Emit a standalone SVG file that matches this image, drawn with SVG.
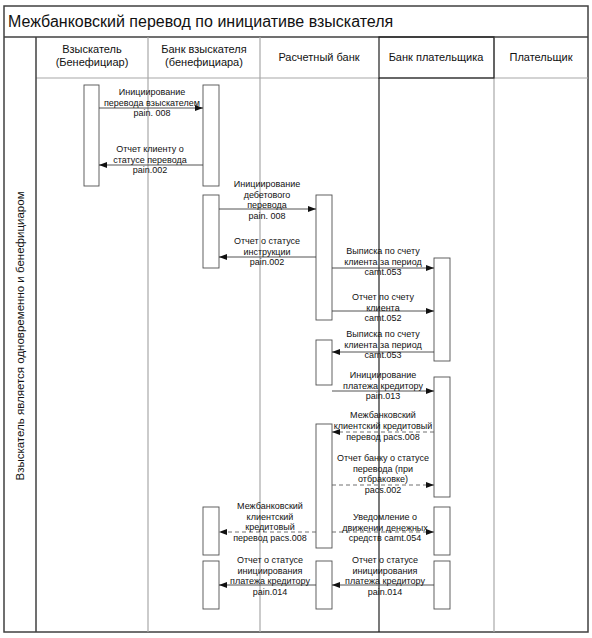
<svg xmlns="http://www.w3.org/2000/svg" width="592" height="638" viewBox="0 0 592 638">
<defs>
<style>
text{font-family:"Liberation Sans",Arial,sans-serif;fill:#111}
.title{font-size:16px}
.hdr{font-size:11px;text-anchor:middle}
.lbl{font-size:9px;text-anchor:middle}
.side{font-size:11.5px;text-anchor:middle}
.frame{fill:none;stroke:#404040;stroke-width:1.5}
.lane{fill:none;stroke:#a8a8a8;stroke-width:1.2}
.dark{fill:none;stroke:#202020;stroke-width:1.2}
.act{fill:#fff;stroke:#505050;stroke-width:0.9}
.msg{fill:none;stroke:#404040;stroke-width:0.9;marker-end:url(#ah)}
.dash{fill:none;stroke:#606060;stroke-width:0.9;stroke-dasharray:4 3;marker-end:url(#ah)}
</style>
<marker id="ah" markerWidth="8" markerHeight="6" refX="8" refY="3" orient="auto" markerUnits="userSpaceOnUse">
<path d="M0,0 L8,3 L0,6 Z" fill="#111"/>
</marker>
</defs>
<rect width="592" height="638" fill="#fff"/>

<g id="frame">
<rect class="frame" x="4" y="6" width="584" height="626"/>
<line class="frame" x1="4" y1="37" x2="588" y2="37"/>
<line class="lane" x1="36" y1="78" x2="588" y2="78"/>
<line class="frame" x1="36" y1="37" x2="36" y2="632"/>
<line class="lane" x1="148" y1="37" x2="148" y2="632"/>
<line class="lane" x1="260" y1="37" x2="260" y2="632"/>
<line class="lane" x1="494" y1="37" x2="494" y2="632"/>
<rect class="dark" x="379" y="37" width="115" height="41"/>
<line class="dark" x1="379" y1="78" x2="379" y2="632"/>
<text class="title" x="8" y="27">Межбанковский перевод по инициативе взыскателя</text>
<text class="side" transform="translate(24,336) rotate(-90)">Взыскатель является одновременно и бенефициаром</text>
</g>

<g id="lane-vzyskatel">
<text class="hdr" x="92" y="53">Взыскатель<tspan x="92" dy="13">(Бенефициар)</tspan></text>
<rect class="act" x="84" y="85" width="15" height="101"/>
</g>

<g id="lane-bank-vzyskatelya">
<text class="hdr" x="204" y="53">Банк взыскателя<tspan x="204" dy="13">(бенефициара)</tspan></text>
<rect class="act" x="203" y="85" width="16" height="101"/>
<rect class="act" x="203" y="195" width="16" height="73"/>
<rect class="act" x="203" y="507" width="16" height="48"/>
<rect class="act" x="203" y="561" width="16" height="48"/>
</g>

<g id="lane-raschetny">
<text class="hdr" x="319" y="61">Расчетный банк</text>
<rect class="act" x="316" y="195" width="16" height="125"/>
<rect class="act" x="316" y="340" width="16" height="45"/>
<rect class="act" x="316" y="424" width="16" height="124"/>
<rect class="act" x="316" y="561" width="16" height="48"/>
</g>

<g id="lane-bank-platelshchika">
<text class="hdr" x="436" y="61">Банк плательщика</text>
<rect class="act" x="434" y="258" width="16" height="103"/>
<rect class="act" x="434" y="377" width="16" height="120"/>
<rect class="act" x="434" y="507" width="16" height="48"/>
<rect class="act" x="434" y="561" width="16" height="48"/>
</g>

<g id="lane-platelshchik">
<text class="hdr" x="541" y="61">Плательщик</text>
</g>

<g id="connectors">
<line class="msg" x1="99" y1="108" x2="203" y2="108"/>
<text class="lbl" x="152" y="95">Инициирование<tspan x="152" dy="10.5">перевода взыскателем</tspan><tspan x="152" dy="10.5">pain. 008</tspan></text>

<line class="msg" x1="203" y1="165" x2="99" y2="165"/>
<text class="lbl" x="150" y="152">Отчет клиенту о<tspan x="150" dy="10.5">статусе перевода</tspan><tspan x="150" dy="10.5">pain.002</tspan></text>

<line class="msg" x1="219" y1="209" x2="316" y2="209"/>
<text class="lbl" x="267" y="187">Инициирование<tspan x="267" dy="10.5">дебетового</tspan><tspan x="267" dy="10.5">перевода</tspan><tspan x="267" dy="10.5">pain. 008</tspan></text>

<line class="msg" x1="316" y1="257" x2="219" y2="257"/>
<text class="lbl" x="267" y="244">Отчет о статусе<tspan x="267" dy="10.5">инструкции</tspan><tspan x="267" dy="10.5">pain.002</tspan></text>

<line class="msg" x1="332" y1="268" x2="434" y2="268"/>
<text class="lbl" x="383" y="254">Выписка по счету<tspan x="383" dy="10.5">клиента за период</tspan><tspan x="383" dy="10.5">camt.053</tspan></text>

<line class="msg" x1="332" y1="311" x2="434" y2="311"/>
<text class="lbl" x="383" y="300">Отчет по счету<tspan x="383" dy="10.5">клиента</tspan><tspan x="383" dy="10.5">camt.052</tspan></text>

<line class="msg" x1="434" y1="352" x2="332" y2="352"/>
<text class="lbl" x="383" y="337">Выписка по счету<tspan x="383" dy="10.5">клиента за период</tspan><tspan x="383" dy="10.5">camt.053</tspan></text>

<line class="msg" x1="332" y1="391" x2="434" y2="391"/>
<text class="lbl" x="383" y="378">Инициирование<tspan x="383" dy="10.5">платежа кредитору</tspan><tspan x="383" dy="10.5">pain.013</tspan></text>

<line class="dash" x1="434" y1="432" x2="332" y2="432"/>
<text class="lbl" x="383" y="418">Межбанковский<tspan x="383" dy="11">клиентский кредитовый</tspan><tspan x="383" dy="11">перевод pacs.008</tspan></text>

<line class="dash" x1="332" y1="485" x2="434" y2="485"/>
<text class="lbl" x="383" y="461">Отчет банку о статусе<tspan x="383" dy="10.5">перевода (при</tspan><tspan x="383" dy="10.5">отбраковке)</tspan><tspan x="383" dy="10.5">pacs.002</tspan></text>

<line class="dash" x1="316" y1="532" x2="219" y2="532"/>
<text class="lbl" x="270" y="509">Межбанковский<tspan x="270" dy="10.5">клиентский</tspan><tspan x="270" dy="10.5">кредитовый</tspan><tspan x="270" dy="10.5">перевод pacs.008</tspan></text>

<line class="dash" x1="332" y1="532" x2="434" y2="532"/>
<text class="lbl" x="385" y="520">Уведомление о<tspan x="385" dy="10.5">движении денежных</tspan><tspan x="385" dy="10.5">средств camt.054</tspan></text>

<line class="msg" x1="316" y1="585" x2="219" y2="585"/>
<text class="lbl" x="270" y="563">Отчет о статусе<tspan x="270" dy="10.5">инициирования</tspan><tspan x="270" dy="10.5">платежа кредитору</tspan><tspan x="270" dy="10.5">pain.014</tspan></text>

<line class="msg" x1="434" y1="585" x2="332" y2="585"/>
<text class="lbl" x="385" y="563">Отчет о статусе<tspan x="385" dy="10.5">инициирования</tspan><tspan x="385" dy="10.5">платежа кредитору</tspan><tspan x="385" dy="10.5">pain.014</tspan></text>
</g>
</svg>
